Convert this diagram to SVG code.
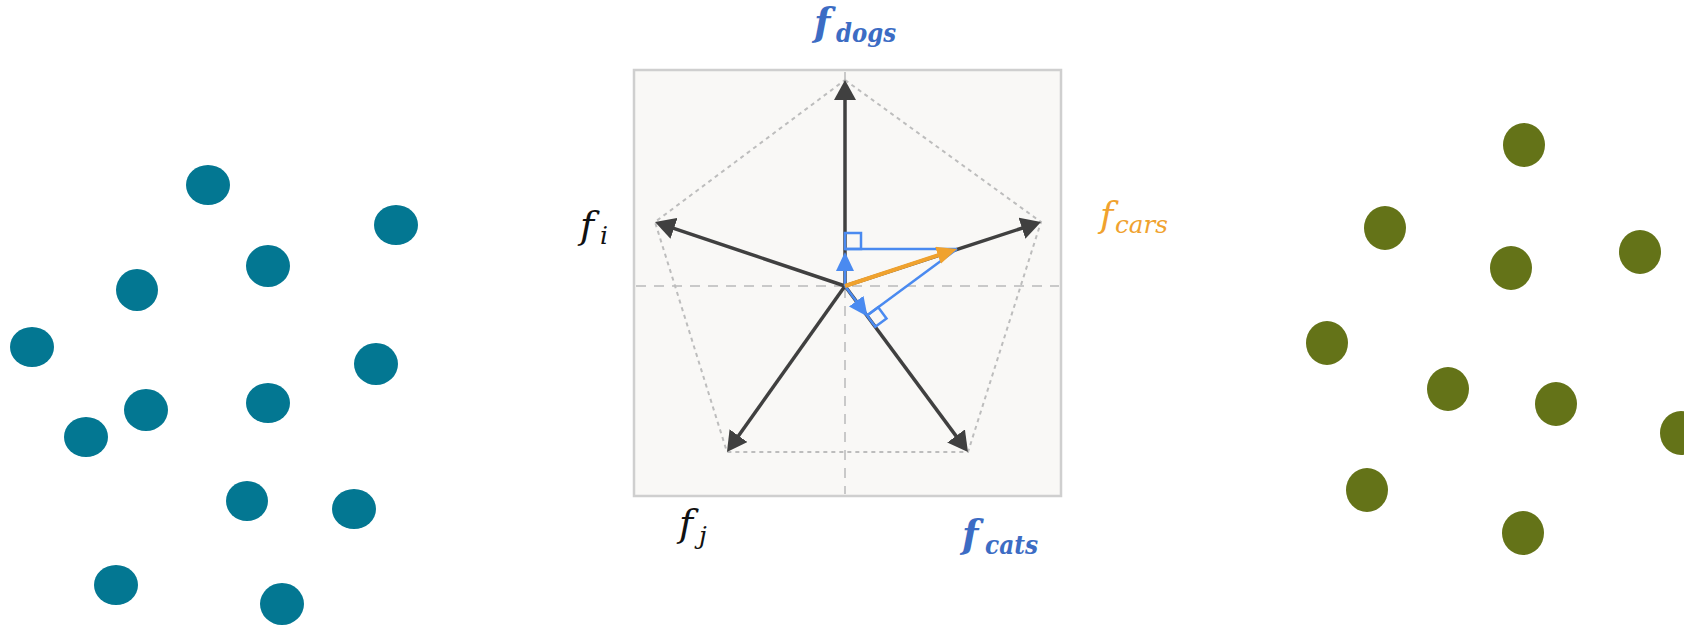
<svg xmlns="http://www.w3.org/2000/svg" width="1684" height="627" viewBox="0 0 1684 627">
<style>
.teal{fill:#037792}
.olive{fill:#647318}
.axis{stroke:#404040;stroke-width:3.5;fill:none}
.pent{stroke:#bdbdbd;stroke-width:2;stroke-dasharray:4 4;fill:none}
.cross{stroke:#c9c9c9;stroke-width:2;stroke-dasharray:10 8;fill:none}
.blue{stroke:#4a8af0;stroke-width:2.5;fill:none}
.lbl{font-family:"DejaVu Serif","Liberation Serif",serif;font-style:italic}
.b{font-weight:bold;fill:#3c6cc4}
</style>
<defs>
<marker id="hd" viewBox="0 0 20 22" refX="12" refY="11" markerWidth="20" markerHeight="22" markerUnits="userSpaceOnUse" orient="auto"><path d="M0,0 L20,11 L0,22 z" fill="#404040"/></marker>
<marker id="ho" viewBox="0 0 20 18" refX="11" refY="9" markerWidth="20" markerHeight="18" markerUnits="userSpaceOnUse" orient="auto"><path d="M0,0 L20,9 L0,18 z" fill="#f0a22e"/></marker>
<marker id="hb" viewBox="0 0 19 18" refX="10" refY="9" markerWidth="19" markerHeight="18" markerUnits="userSpaceOnUse" orient="auto"><path d="M0,0 L19,9 L0,18 z" fill="#4a8af0"/></marker>
</defs>
<rect width="1684" height="627" fill="#ffffff"/>

<g id="left-cluster">
<ellipse class="teal" cx="208" cy="185" rx="22" ry="20"/>
<ellipse class="teal" cx="396" cy="225" rx="22" ry="20"/>
<ellipse class="teal" cx="268" cy="266" rx="22" ry="21"/>
<ellipse class="teal" cx="137" cy="290" rx="21" ry="21"/>
<ellipse class="teal" cx="32" cy="347" rx="22" ry="20"/>
<ellipse class="teal" cx="376" cy="364" rx="22" ry="21"/>
<ellipse class="teal" cx="268" cy="403" rx="22" ry="20"/>
<ellipse class="teal" cx="146" cy="410" rx="22" ry="21"/>
<ellipse class="teal" cx="86" cy="437" rx="22" ry="20"/>
<ellipse class="teal" cx="247" cy="501" rx="21" ry="20"/>
<ellipse class="teal" cx="354" cy="509" rx="22" ry="20"/>
<ellipse class="teal" cx="116" cy="585" rx="22" ry="20"/>
<ellipse class="teal" cx="282" cy="604" rx="22" ry="21"/>
</g>

<g id="right-cluster">
<ellipse class="olive" cx="1524" cy="145" rx="21" ry="22"/>
<ellipse class="olive" cx="1385" cy="228" rx="21" ry="22"/>
<ellipse class="olive" cx="1511" cy="268" rx="21" ry="22"/>
<ellipse class="olive" cx="1640" cy="252" rx="21" ry="22"/>
<ellipse class="olive" cx="1327" cy="343" rx="21" ry="22"/>
<ellipse class="olive" cx="1448" cy="389" rx="21" ry="22"/>
<ellipse class="olive" cx="1556" cy="404" rx="21" ry="22"/>
<ellipse class="olive" cx="1681" cy="433" rx="21" ry="22"/>
<ellipse class="olive" cx="1367" cy="490" rx="21" ry="22"/>
<ellipse class="olive" cx="1523" cy="533" rx="21" ry="22"/>
</g>

<g id="panel">
<rect x="634" y="70" width="427" height="426" fill="#f9f8f6" stroke="#cfcfcf" stroke-width="2.5"/>
<line class="cross" x1="636" y1="286" x2="1059" y2="286"/>
<line class="cross" x1="845" y1="72" x2="845" y2="494"/>
<polygon class="pent" points="845,80 1041,222 968,452 727,452 655,222"/>
</g>

<g id="connectors">
<line class="axis" x1="845" y1="286" x2="845" y2="88" marker-end="url(#hd)"/>
<line class="axis" x1="845" y1="286" x2="662.6" y2="224.6" marker-end="url(#hd)"/>
<line class="axis" x1="845" y1="286" x2="1033.4" y2="224.5" marker-end="url(#hd)"/>
<line class="axis" x1="845" y1="286" x2="731.6" y2="445.5" marker-end="url(#hd)"/>
<line class="axis" x1="845" y1="286" x2="963.2" y2="445.6" marker-end="url(#hd)"/>
<line class="blue" x1="845" y1="249" x2="957" y2="249"/>
<rect class="blue" x="845" y="233" width="16" height="16"/>
<line class="blue" x1="957" y1="249" x2="867" y2="315.6"/>
<polygon class="blue" points="867,315.6 875.3,326.8 886.5,318.5 878.2,307.3"/>
<line class="blue" stroke-width="3.5" x1="845" y1="286" x2="845" y2="261" marker-end="url(#hb)"/>
<line class="blue" stroke-width="3.5" x1="845" y1="286" x2="862.2" y2="309.2" marker-end="url(#hb)"/>
<line stroke="#f0a22e" stroke-width="4" x1="845" y1="286" x2="948.4" y2="251.8" marker-end="url(#ho)"/>
</g>

<g id="labels">
<text class="lbl b" x="814" y="35" font-size="38">f</text>
<text class="lbl b" x="836" y="42" font-size="26" textLength="60" lengthAdjust="spacingAndGlyphs">dogs</text>
<text class="lbl" x="1100" y="227" font-size="36" fill="#f0a22e">f</text>
<text class="lbl" x="1115" y="233" font-size="24" fill="#f0a22e" textLength="53" lengthAdjust="spacingAndGlyphs">cars</text>
<text class="lbl" x="580" y="238" font-size="38" fill="#111">f</text>
<text class="lbl" x="600" y="244" font-size="25" fill="#111">i</text>
<text class="lbl" x="679" y="536" font-size="38" fill="#111">f</text>
<text class="lbl" x="699" y="544" font-size="25" fill="#111">j</text>
<text class="lbl b" x="962" y="547" font-size="38">f</text>
<text class="lbl b" x="985" y="554" font-size="26" textLength="53" lengthAdjust="spacingAndGlyphs">cats</text>
</g>
</svg>
